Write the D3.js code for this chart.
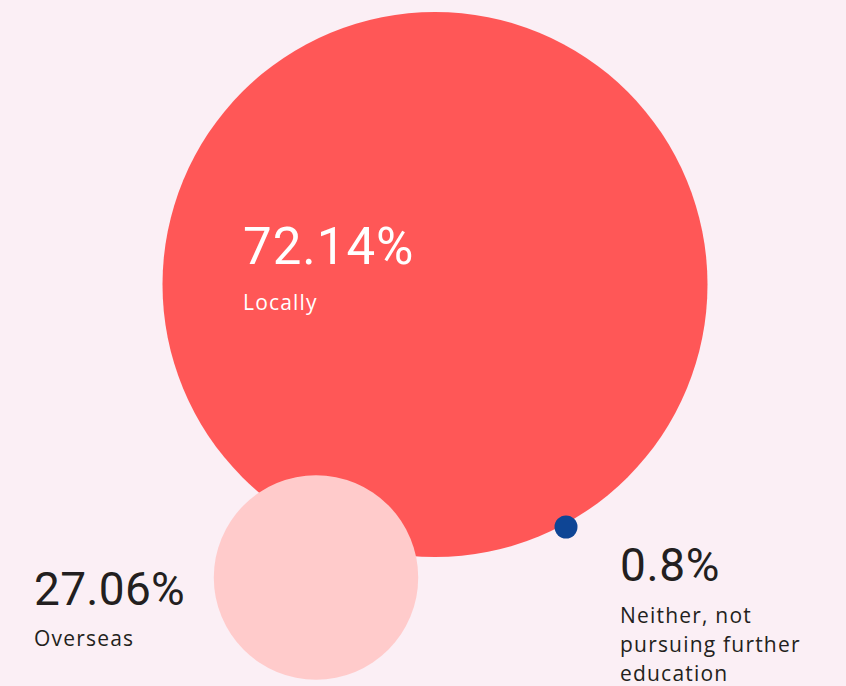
<!DOCTYPE html>
<html>
<head>
<meta charset="utf-8">
<script src="https://cdn.jsdelivr.net/npm/d3@7"></script>
<style>
  body { margin: 0; background: #fbeff5; }
  svg { display: block; }
</style>
</head>
<body>
<script>
// data
var categories = ["Locally", "Overseas", "Neither, not pursuing further education"];
var values = [72.14, 27.06, 0.8];
var valueLabels = ["72.14%", "27.06%", "0.8%"];

var width = 846, height = 686;

// layout (positions are not data)
var colors = ["#ff5757", "#ffcbcb", "#0e4595"];
var centers = [[435, 284.5], [316, 577.5], [566, 527]];
var minR = 11.5;
var labelPos = [
  { x: 243, y: 264, vy: 46, fill: "#ffffff", size: 51, ls: 1, lines: ["Locally"] },
  { x: 34, y: 605, vy: 41, fill: "#231f20", size: 46, ls: 0.3, lines: ["Overseas"] },
  { x: 620, y: 581, vy: 42, fill: "#231f20", size: 46, ls: 0.6, lines: ["Neither, not", "pursuing further", "education"] }
];

// radius proportional to value, with a floor so tiny slices stay visible
var r = d3.scaleLinear()
  .domain([0, d3.max(values)])
  .range([0, 272.5]);

var svg = d3.select("body").append("svg")
  .attr("width", width)
  .attr("height", height);

svg.append("rect")
  .attr("width", width).attr("height", height)
  .attr("fill", "#fbeff5");

var rows = values.map(function(v, i) {
  return { cat: categories[i], value: v, label: valueLabels[i], i: i };
});

svg.selectAll("circle.bubble")
  .data(rows)
  .enter().append("circle")
  .attr("class", "bubble")
  .attr("cx", function(d) { return centers[d.i][0]; })
  .attr("cy", function(d) { return centers[d.i][1]; })
  .attr("r", function(d) { return Math.max(minR, r(d.value)); })
  .attr("fill", function(d) { return colors[d.i]; });

var labels = svg.selectAll("g.label")
  .data(rows)
  .enter().append("g")
  .attr("class", "label")
  .attr("transform", function(d) {
    return "translate(" + labelPos[d.i].x + "," + labelPos[d.i].y + ")";
  });

labels.append("text")
  .attr("font-family", "Roboto, sans-serif")
  .attr("font-weight", 400)
  .attr("font-size", function(d) { return labelPos[d.i].size; })
  .attr("letter-spacing", function(d) { return labelPos[d.i].ls; })
  .attr("fill", function(d) { return labelPos[d.i].fill; })
  .text(function(d) { return d.label; });

labels.append("text")
  .attr("font-family", "'Open Sans', sans-serif")
  .attr("font-size", 21)
  .attr("letter-spacing", 1.2)
  .attr("fill", function(d) { return labelPos[d.i].fill; })
  .selectAll("tspan")
  .data(function(d) {
    return labelPos[d.i].lines.map(function(l) { return { t: l, vy: labelPos[d.i].vy }; });
  })
  .enter().append("tspan")
  .attr("x", 0)
  .attr("y", function(d, j) { return d.vy + j * 29; })
  .text(function(d) { return d.t; });
</script>
</body>
</html>
